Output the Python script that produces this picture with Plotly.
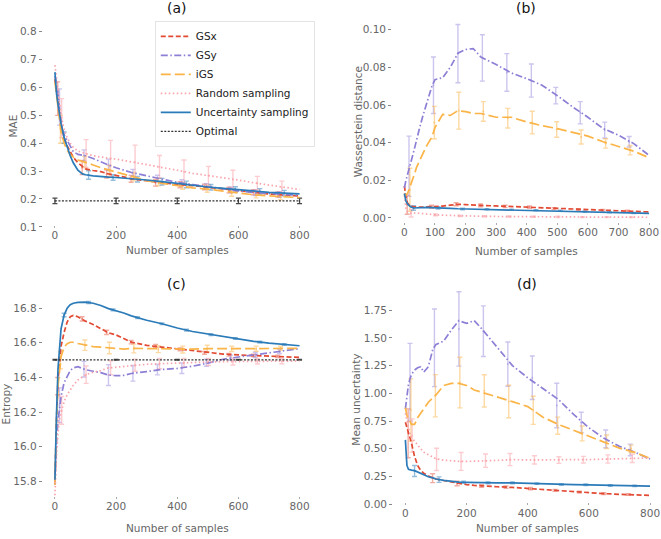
import plotly.graph_objects as go

# ---------------- data ----------------
G = [0, 2, 5, 10, 15, 20, 30, 40, 50, 60, 75, 90, 100, 125, 150, 175, 200, 225, 250,
     300, 350, 400, 450, 500, 550, 600, 650, 700, 750, 800]
NAMES = ["GSx", "GSy", "iGS", "Random sampling", "Uncertainty sampling"]

# (a) MAE
A_GSX = [0.63, 0.60, 0.58, 0.55, 0.51, 0.47, 0.42, 0.39, 0.37, 0.35, 0.33, 0.315, 0.308, 0.302, 0.298, 0.29, 0.285, 0.279, 0.272,
         0.265, 0.258, 0.252, 0.248, 0.242, 0.236, 0.229, 0.223, 0.218, 0.214, 0.211]
A_GSY = [0.64, 0.63, 0.62, 0.58, 0.53, 0.47, 0.43, 0.41, 0.385, 0.37, 0.36, 0.357, 0.355, 0.345, 0.333, 0.322, 0.312, 0.303, 0.295,
         0.283, 0.271, 0.26, 0.252, 0.244, 0.236, 0.229, 0.223, 0.219, 0.216, 0.213]
A_IGS = [0.62, 0.60, 0.57, 0.52, 0.48, 0.44, 0.40, 0.375, 0.36, 0.35, 0.34, 0.335, 0.332, 0.322, 0.312, 0.304, 0.296, 0.288, 0.28,
         0.266, 0.256, 0.247, 0.24, 0.235, 0.228, 0.221, 0.215, 0.211, 0.208, 0.205]
A_RND = [0.68, 0.66, 0.63, 0.58, 0.54, 0.50, 0.45, 0.42, 0.40, 0.385, 0.372, 0.366, 0.363, 0.355, 0.35, 0.346, 0.343, 0.338, 0.334,
         0.325, 0.315, 0.303, 0.292, 0.284, 0.277, 0.268, 0.258, 0.25, 0.242, 0.234]
A_UNC = [0.655, 0.62, 0.58, 0.54, 0.50, 0.47, 0.42, 0.385, 0.355, 0.33, 0.303, 0.29, 0.287, 0.283, 0.28, 0.278, 0.277, 0.275, 0.273,
         0.268, 0.262, 0.255, 0.249, 0.243, 0.238, 0.233, 0.228, 0.224, 0.221, 0.218]

# (b) Wasserstein distance
B_GSX = [0.017, 0.014, 0.011, 0.008, 0.0068, 0.0062, 0.006, 0.0058, 0.0058, 0.0058, 0.0059, 0.006, 0.006, 0.0063, 0.0068, 0.0073,
         0.0071, 0.0068, 0.0067, 0.0064, 0.0061, 0.0058, 0.0054, 0.005, 0.0047, 0.0044, 0.0041, 0.0038, 0.0035, 0.0032]
B_GSY = [0.016, 0.018, 0.02, 0.023, 0.027, 0.029, 0.035, 0.042, 0.048, 0.054, 0.062, 0.07, 0.0735, 0.0745, 0.08, 0.0875, 0.0895,
         0.090, 0.0855, 0.0815, 0.077, 0.074, 0.0705, 0.065, 0.059, 0.0535, 0.0475, 0.044, 0.0395, 0.0333]
B_IGS = [0.013, 0.012, 0.012, 0.013, 0.015, 0.017, 0.022, 0.027, 0.031, 0.034, 0.039, 0.043, 0.048, 0.055, 0.0545, 0.057, 0.0565,
         0.0555, 0.0555, 0.0535, 0.0535, 0.051, 0.049, 0.0475, 0.0455, 0.0435, 0.0405, 0.038, 0.0355, 0.032]
B_RND = [0.012, 0.008, 0.005, 0.003, 0.0025, 0.0025, 0.0028, 0.0027, 0.0025, 0.0023, 0.002, 0.0018, 0.0017, 0.0015, 0.0013,
         0.0011, 0.001, 0.001, 0.0009, 0.0008, 0.0007, 0.0007, 0.0006, 0.0006, 0.0005, 0.0005, 0.0005, 0.0004, 0.0004, 0.0004]
B_UNC = [0.013, 0.011, 0.009, 0.0075, 0.0066, 0.006, 0.0053, 0.0054, 0.0056, 0.0056, 0.0056, 0.0055, 0.0055, 0.0053, 0.0051,
         0.0049, 0.0048, 0.0047, 0.0047, 0.0045, 0.0044, 0.0042, 0.004, 0.0038, 0.0036, 0.0034, 0.0032, 0.003, 0.0027, 0.0024]

# (c) Entropy
C_GSX = [15.8, 15.97, 16.15, 16.38, 16.5, 16.58, 16.66, 16.72, 16.75, 16.758, 16.75, 16.735, 16.725, 16.705, 16.68, 16.658,
         16.645, 16.625, 16.604, 16.585, 16.575, 16.562, 16.552, 16.542, 16.535, 16.53, 16.527, 16.523, 16.52, 16.516]
C_GSY = [15.78, 15.9, 16.02, 16.15, 16.24, 16.29, 16.37, 16.41, 16.44, 16.455, 16.462, 16.452, 16.445, 16.436, 16.428, 16.414,
         16.41, 16.412, 16.423, 16.434, 16.446, 16.452, 16.465, 16.483, 16.505, 16.518, 16.53, 16.542, 16.553, 16.566]
C_IGS = [15.78, 15.95, 16.15, 16.35, 16.45, 16.52, 16.575, 16.595, 16.603, 16.603, 16.596, 16.59, 16.585, 16.578, 16.575, 16.57,
         16.566, 16.564, 16.568, 16.567, 16.562, 16.561, 16.563, 16.566, 16.565, 16.565, 16.566, 16.567, 16.568, 16.568]
C_RND = [15.72, 15.82, 15.95, 16.08, 16.16, 16.2, 16.26, 16.3, 16.33, 16.355, 16.385, 16.405, 16.415, 16.43, 16.44, 16.455,
         16.46, 16.465, 16.47, 16.476, 16.48, 16.484, 16.487, 16.489, 16.491, 16.492, 16.493, 16.494, 16.494, 16.495]
C_UNC = [15.81, 15.98, 16.18, 16.45, 16.59, 16.68, 16.76, 16.8, 16.82, 16.828, 16.833, 16.835, 16.834, 16.828, 16.815, 16.797,
         16.785, 16.772, 16.755, 16.73, 16.71, 16.685, 16.665, 16.65, 16.636, 16.622, 16.608, 16.598, 16.59, 16.583]

# (d) Mean uncertainty
D_GSX = [0.74, 0.72, 0.70, 0.66, 0.60, 0.55, 0.43, 0.35, 0.305, 0.28, 0.255, 0.235, 0.228, 0.214, 0.2, 0.185, 0.177, 0.17, 0.164,
         0.158, 0.152, 0.142, 0.133, 0.124, 0.114, 0.105, 0.096, 0.09, 0.085, 0.08]
D_GSY = [0.86, 0.9, 0.98, 1.08, 1.13, 1.17, 1.21, 1.23, 1.24, 1.19, 1.24, 1.40, 1.44, 1.47, 1.57, 1.655, 1.63, 1.655, 1.58,
         1.41, 1.25, 1.14, 1.04, 0.945, 0.81, 0.69, 0.594, 0.522, 0.47, 0.408]
D_IGS = [0.87, 0.84, 0.80, 0.77, 0.74, 0.72, 0.72, 0.78, 0.82, 0.86, 0.92, 0.96, 0.985, 1.07, 1.09, 1.09, 1.07, 1.03, 1.01,
         0.965, 0.925, 0.88, 0.785, 0.72, 0.668, 0.612, 0.565, 0.506, 0.468, 0.414]
D_RND = [0.82, 0.79, 0.74, 0.69, 0.64, 0.60, 0.57, 0.53, 0.50, 0.47, 0.445, 0.42, 0.41, 0.398, 0.39, 0.387, 0.387, 0.387, 0.39,
         0.396, 0.402, 0.4, 0.4, 0.399, 0.4, 0.403, 0.407, 0.41, 0.414, 0.417]
D_UNC = [0.58, 0.47, 0.35, 0.315, 0.31, 0.308, 0.303, 0.29, 0.275, 0.262, 0.248, 0.238, 0.228, 0.215, 0.205, 0.2, 0.198, 0.196,
         0.194, 0.193, 0.193, 0.188, 0.183, 0.179, 0.177, 0.175, 0.171, 0.168, 0.166, 0.164]

# error-bar sample positions (per method)
EX_GSX = [9, 89, 169, 249, 329, 409, 489, 569, 649, 729]
EX_GSY = [15, 95, 175, 255, 335, 415, 495, 575, 655, 735]
EX_IGS = [18, 98, 178, 258, 338, 418, 498, 578, 658, 738]
EX_RND = [22, 102, 182, 262, 342, 422, 502, 582, 662, 742]
EX_UNC = [30, 110, 190, 270, 350, 430, 510, 590, 670, 750]
EX_OPT = [0, 200, 400, 600, 800]

# (a) error bars: centre / half-width
AE_GSX_Y = [0.56, 0.313, 0.29, 0.272, 0.258, 0.251, 0.243, 0.232, 0.224, 0.216]
AE_GSX_E = [0.06, 0.025, 0.015, 0.012, 0.012, 0.011, 0.01, 0.01, 0.009, 0.009]
AE_GSY_Y = [0.53, 0.356, 0.323, 0.294, 0.273, 0.258, 0.245, 0.232, 0.222, 0.216]
AE_GSY_E = [0.065, 0.02, 0.02, 0.012, 0.012, 0.011, 0.01, 0.01, 0.01, 0.01]
AE_IGS_Y = [0.45, 0.333, 0.30, 0.28, 0.26, 0.247, 0.236, 0.222, 0.215, 0.208]
AE_IGS_E = [0.05, 0.02, 0.02, 0.015, 0.013, 0.012, 0.012, 0.012, 0.011, 0.011]
AE_RND_Y = [0.49, 0.363, 0.345, 0.333, 0.316, 0.298, 0.284, 0.27, 0.257, 0.24]
AE_RND_E = [0.07, 0.05, 0.065, 0.06, 0.04, 0.042, 0.033, 0.033, 0.024, 0.024]
AE_UNC_Y = [0.42, 0.286, 0.277, 0.271, 0.262, 0.252, 0.242, 0.234, 0.227, 0.221]
AE_UNC_E = [0.02, 0.015, 0.01, 0.01, 0.012, 0.012, 0.01, 0.01, 0.01, 0.01]
AE_OPT_Y = [0.193, 0.193, 0.193, 0.193, 0.193]
AE_OPT_E = [0.01, 0.01, 0.01, 0.01, 0.01]

# (b) error bars
BE_GSX_Y = [0.007, 0.006, 0.0073, 0.0067, 0.0062, 0.0058, 0.005, 0.0045, 0.004, 0.0036]
BE_GSX_E = [0.005, 0.0008, 0.0008, 0.0007, 0.0006, 0.0006, 0.0005, 0.0005, 0.0005, 0.0005]
BE_GSY_Y = [0.0275, 0.0705, 0.0873, 0.085, 0.0773, 0.073, 0.065, 0.0559, 0.0467, 0.0405]
BE_GSY_E = [0.016, 0.015, 0.0155, 0.0123, 0.01, 0.0088, 0.0044, 0.0059, 0.0042, 0.0028]
BE_IGS_Y = [0.015, 0.0507, 0.057, 0.0566, 0.053, 0.0507, 0.047, 0.043, 0.0396, 0.036]
BE_IGS_E = [0.0114, 0.0086, 0.0098, 0.0052, 0.0052, 0.006, 0.0041, 0.0037, 0.0025, 0.0025]
BE_RND_Y = [0.0025, 0.0017, 0.0011, 0.0009, 0.0008, 0.0007, 0.0006, 0.0005, 0.0005, 0.0004]
BE_RND_E = [0.002, 0.0005, 0.0004, 0.0003, 0.0003, 0.0003, 0.0003, 0.0002, 0.0002, 0.0002]
BE_UNC_Y = [0.0053, 0.0054, 0.0048, 0.0046, 0.0044, 0.0041, 0.0038, 0.0034, 0.0031, 0.0027]
BE_UNC_E = [0.0012, 0.0006, 0.0004, 0.0003, 0.0003, 0.0003, 0.0003, 0.0003, 0.0003, 0.0003]

# (c) error bars
CE_GSX_Y = [16.35, 16.738, 16.66, 16.604, 16.582, 16.562, 16.542, 16.531, 16.527, 16.522]
CE_GSX_E = [0.05, 0.012, 0.012, 0.01, 0.008, 0.008, 0.008, 0.008, 0.007, 0.007]
CE_GSY_Y = [16.24, 16.448, 16.414, 16.424, 16.445, 16.453, 16.485, 16.514, 16.53, 16.55]
CE_GSY_E = [0.1, 0.045, 0.06, 0.045, 0.03, 0.03, 0.02, 0.015, 0.015, 0.012]
CE_IGS_Y = [16.5, 16.586, 16.57, 16.567, 16.563, 16.561, 16.566, 16.565, 16.566, 16.568]
CE_IGS_E = [0.05, 0.03, 0.033, 0.025, 0.02, 0.02, 0.02, 0.015, 0.015, 0.012]
CE_RND_Y = [16.21, 16.416, 16.456, 16.471, 16.48, 16.485, 16.489, 16.492, 16.493, 16.494]
CE_RND_E = [0.08, 0.05, 0.04, 0.035, 0.03, 0.025, 0.02, 0.02, 0.015, 0.015]
CE_UNC_Y = [16.76, 16.832, 16.79, 16.745, 16.71, 16.673, 16.647, 16.625, 16.604, 16.59]
CE_UNC_E = [0.01, 0.006, 0.005, 0.005, 0.005, 0.005, 0.005, 0.005, 0.005, 0.005]
CE_OPT_Y = [16.502, 16.502, 16.502, 16.502, 16.502]
CE_OPT_E = [0.002, 0.002, 0.002, 0.002, 0.002]

# (d) error bars
DE_GSX_Y = [0.64, 0.235, 0.187, 0.164, 0.155, 0.141, 0.125, 0.11, 0.096, 0.088]
DE_GSX_E = [0.22, 0.04, 0.02, 0.012, 0.01, 0.01, 0.008, 0.008, 0.008, 0.008]
DE_GSY_Y = [1.1, 1.41, 1.58, 1.56, 1.263, 1.14, 0.89, 0.738, 0.59, 0.49]
DE_GSY_E = [0.35, 0.35, 0.335, 0.228, 0.2, 0.196, 0.2, 0.092, 0.08, 0.052]
DE_IGS_Y = [0.85, 0.978, 1.097, 1.022, 0.926, 0.847, 0.708, 0.638, 0.564, 0.5]
DE_IGS_E = [0.28, 0.19, 0.228, 0.145, 0.146, 0.127, 0.077, 0.067, 0.061, 0.033]
DE_RND_Y = [0.62, 0.405, 0.386, 0.393, 0.403, 0.4, 0.399, 0.402, 0.408, 0.414]
DE_RND_E = [0.15, 0.1, 0.08, 0.06, 0.055, 0.037, 0.03, 0.03, 0.037, 0.037]
DE_UNC_Y = [0.30, 0.222, 0.199, 0.193, 0.193, 0.186, 0.179, 0.176, 0.17, 0.166]
DE_UNC_E = [0.05, 0.025, 0.01, 0.008, 0.008, 0.007, 0.007, 0.007, 0.007, 0.007]

# ---------------- styles ----------------
COLORS = ["#E24A33", "#8E7FD6", "#FBB447", "#F9A3AA", "#2B7BB9"]
ERRCOL = ["rgba(226,74,51,0.45)", "rgba(142,127,214,0.45)", "rgba(251,180,71,0.5)",
          "rgba(249,163,170,0.55)", "rgba(43,123,185,0.5)"]
DASHES = ["5px,2.5px", "7px,2.5px,1.5px,2.5px", "10px,4px", "1.5px,2.5px", "solid"]
FONT = "DejaVu Sans"

fig = go.Figure()

panels = [
    ("x", "y", [A_GSX, A_GSY, A_IGS, A_RND, A_UNC],
     [(AE_GSX_Y, AE_GSX_E), (AE_GSY_Y, AE_GSY_E), (AE_IGS_Y, AE_IGS_E), (AE_RND_Y, AE_RND_E), (AE_UNC_Y, AE_UNC_E)],
     (AE_OPT_Y, AE_OPT_E)),
    ("x2", "y2", [B_GSX, B_GSY, B_IGS, B_RND, B_UNC],
     [(BE_GSX_Y, BE_GSX_E), (BE_GSY_Y, BE_GSY_E), (BE_IGS_Y, BE_IGS_E), (BE_RND_Y, BE_RND_E), (BE_UNC_Y, BE_UNC_E)],
     None),
    ("x3", "y3", [C_GSX, C_GSY, C_IGS, C_RND, C_UNC],
     [(CE_GSX_Y, CE_GSX_E), (CE_GSY_Y, CE_GSY_E), (CE_IGS_Y, CE_IGS_E), (CE_RND_Y, CE_RND_E), (CE_UNC_Y, CE_UNC_E)],
     (CE_OPT_Y, CE_OPT_E)),
    ("x4", "y4", [D_GSX, D_GSY, D_IGS, D_RND, D_UNC],
     [(DE_GSX_Y, DE_GSX_E), (DE_GSY_Y, DE_GSY_E), (DE_IGS_Y, DE_IGS_E), (DE_RND_Y, DE_RND_E), (DE_UNC_Y, DE_UNC_E)],
     None),
]
EXS = [EX_GSX, EX_GSY, EX_IGS, EX_RND, EX_UNC]

for pi, (xa, ya, lines, errs, opt) in enumerate(panels):
    # error bars first (drawn beneath lines)
    for si in range(5):
        ey, ee = errs[si]
        fig.add_trace(go.Scatter(
            x=EXS[si], y=ey, mode="markers", xaxis=xa, yaxis=ya,
            marker=dict(size=2, color=ERRCOL[si]), showlegend=False, hoverinfo="skip",
            error_y=dict(type="data", array=ee, visible=True, color=ERRCOL[si], thickness=1.4, width=2.5)))
    if opt is not None:
        fig.add_trace(go.Scatter(
            x=EX_OPT, y=opt[0], mode="markers", xaxis=xa, yaxis=ya,
            marker=dict(size=1, color="rgba(40,40,40,0.8)"), showlegend=False, hoverinfo="skip",
            error_y=dict(type="data", array=opt[1], visible=True, color="rgba(40,40,40,0.85)",
                         thickness=1.3, width=2.5)))
    for si in range(5):
        fig.add_trace(go.Scatter(
            x=G, y=lines[si], mode="lines", name=NAMES[si], xaxis=xa, yaxis=ya,
            line=dict(color=COLORS[si], width=1.7, dash=DASHES[si]),
            showlegend=(pi == 0), legendrank=si + 1))
    if opt is not None:
        fig.add_trace(go.Scatter(
            x=EX_OPT, y=opt[0], mode="lines", name="Optimal", xaxis=xa, yaxis=ya,
            line=dict(color="#333333", width=1.3, dash="2px,1.5px"),
            showlegend=(pi == 0), legendrank=6))

tickfont = dict(family=FONT, size=10.5, color="#666666")
ycommon = dict(showgrid=False, zeroline=False, showline=False, ticks="outside", ticklen=3,
               tickcolor="#888888", tickwidth=1, tickfont=tickfont)
xcommon = dict(showgrid=False, zeroline=False, showline=False, ticks="inside", ticklen=2,
               tickcolor="#aaaaaa", tickwidth=1, tickfont=tickfont, range=[-40, 830])

fig.update_layout(
    width=661, height=539,
    margin=dict(l=0, r=0, t=0, b=0),
    paper_bgcolor="white", plot_bgcolor="white",
    font=dict(family=FONT, size=10.5, color="#555555"),
    xaxis=dict(domain=[0.0647, 0.4678], anchor="y", tickvals=[0, 200, 400, 600, 800], **xcommon),
    yaxis=dict(domain=[0.5733, 0.9629], range=[0.0964, 0.8426], anchor="x", dtick=0.1, tickformat=".1f", **ycommon),
    xaxis2=dict(domain=[0.5942, 0.9973], anchor="y2",
                tickvals=[0, 100, 200, 300, 400, 500, 600, 700, 800], **xcommon),
    yaxis2=dict(domain=[0.5788, 0.9629], range=[-0.00368, 0.10526], anchor="x2", dtick=0.02, tickformat=".2f",
                **ycommon),
    xaxis3=dict(domain=[0.0647, 0.4678], anchor="y3", tickvals=[0, 200, 400, 600, 800], **xcommon),
    yaxis3=dict(domain=[0.0659, 0.46197], range=[15.70, 16.92], anchor="x3", tick0=15.8, dtick=0.2, tickformat=".1f",
                **ycommon),
    xaxis4=dict(domain=[0.5957, 0.9988], anchor="y4", tickvals=[0, 200, 400, 600, 800], **xcommon),
    yaxis4=dict(domain=[0.0538, 0.4583], range=[-0.0089, 1.9375], anchor="x4", dtick=0.25, tickformat=".2f",
                **ycommon),
    legend=dict(x=0.2345, y=0.961, xanchor="left", yanchor="top", bgcolor="rgba(255,255,255,0.85)",
                bordercolor="#e4e4e4", borderwidth=1, font=dict(family=FONT, size=10.5, color="#222222"),
                traceorder="normal"),
)

ann = []
for txt, x, y in [("(a)", 0.2678, 0.9852), ("(b)", 0.797, 0.9852), ("(c)", 0.2678, 0.4675), ("(d)", 0.7988, 0.4675)]:
    ann.append(dict(text=txt, x=x, y=y, xref="paper", yref="paper", showarrow=False,
                    font=dict(family=FONT, size=14, color="#111111"), xanchor="center", yanchor="middle"))
for x, y in [(0.2693, 0.5325), (0.7973, 0.5307), (0.2693, 0.0111), (0.7988, 0.0111)]:
    ann.append(dict(text="Number of samples", x=x, y=y, xref="paper", yref="paper", showarrow=False,
                    font=dict(family=FONT, size=10.5, color="#666666"), xanchor="center", yanchor="middle"))
for txt, x, y in [("MAE", 0.0192, 0.7644), ("Wasserstein distance", 0.5416, 0.7718),
                  ("Entropy", 0.0095, 0.243), ("Mean uncertainty", 0.540, 0.2523)]:
    ann.append(dict(text=txt, x=x, y=y, xref="paper", yref="paper", showarrow=False, textangle=-90,
                    font=dict(family=FONT, size=10.5, color="#666666"), xanchor="center", yanchor="middle"))
fig.update_layout(annotations=ann)

fig.write_html("out.html", config={"displayModeBar": False},
               post_script="document.body.style.margin='0px';document.body.style.padding='0px';"
                           "document.body.style.overflow='hidden';")
